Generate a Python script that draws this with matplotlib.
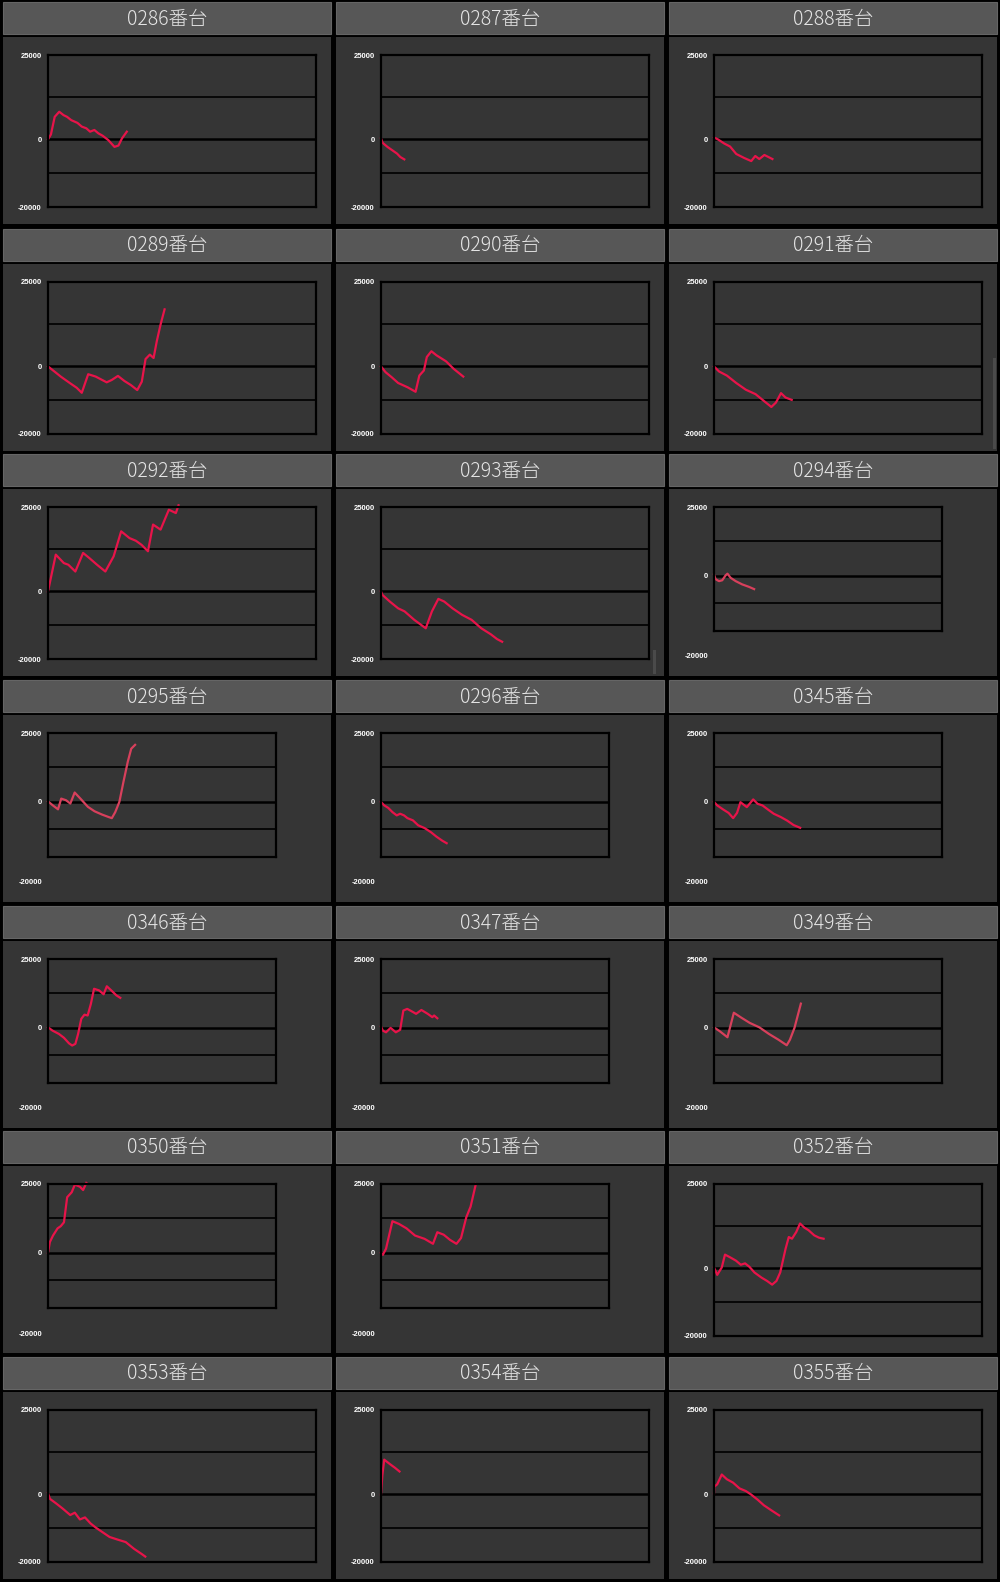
import matplotlib
matplotlib.use('Agg')
import matplotlib.pyplot as plt
from matplotlib.patches import Rectangle

plt.rcParams['font.family'] = ['Noto Sans CJK JP', 'DejaVu Sans']

W, H = 1000, 1582

# panel titles, row by row
labels = ['0286番台', '0287番台', '0288番台',
          '0289番台', '0290番台', '0291番台',
          '0292番台', '0293番台', '0294番台',
          '0295番台', '0296番台', '0345番台',
          '0346番台', '0347番台', '0349番台',
          '0350番台', '0351番台', '0352番台',
          '0353番台', '0354番台', '0355番台']

# x = % of the chart width, y = difference in yen
x_0286 = [0, 1.1, 2.5, 4.2, 5.8, 7.1, 8.7, 11, 12.6, 14.3, 15.7, 17.3, 18.8, 20.4, 22.5, 24.8, 26.3, 27.6, 29.4]
y_0286 = [0, 1500, 6700, 8200, 7200, 6700, 5700, 4900, 3800, 3300, 2300, 2800, 1800, 1100, -200, -2200, -1800, 300, 2300]
x_0287 = [0, 0.6, 2.4, 4.2, 6, 7.2, 8.7]
y_0287 = [300, -1000, -2200, -3200, -4200, -5200, -5900]
x_0288 = [0, 1.5, 3.8, 6, 8.3, 11.3, 13.9, 15.4, 16.9, 18.8, 20.3, 21.8]
y_0288 = [600, 0, -1200, -2100, -4300, -5500, -6400, -4900, -5800, -4600, -5200, -5800]
x_0289 = [0, 2.4, 4.75, 8.3, 10.7, 12.6, 15, 17.8, 20.2, 21.9, 23.8, 26.1, 28.5, 30.9, 33.3, 35, 36.4, 38, 39.4, 40.6, 42, 43.5]
y_0289 = [0, -1500, -3000, -5000, -6300, -7800, -2300, -3000, -4000, -4700, -4000, -2800, -4300, -5500, -7000, -4500, 2200, 3500, 2500, 7500, 12400, 16900]
x_0290 = [0, 1.7, 4, 6.4, 10, 12.9, 14.3, 16, 17.1, 18.8, 20.7, 24.3, 27.1, 30.7]
y_0290 = [0, -1700, -3200, -4900, -6200, -7500, -2700, -1200, 2800, 4500, 3300, 1500, -700, -3000]
x_0291 = [0, 1.9, 4.8, 8.3, 11.9, 15.5, 18.6, 21.4, 23.1, 25, 26.7, 29]
y_0291 = [0, -1500, -2700, -4900, -6900, -8200, -10200, -12000, -10700, -7900, -9200, -9900]
x_0292 = [0, 2.9, 5.9, 7.6, 10.2, 13.1, 15.4, 18.3, 21.4, 24.5, 27.3, 30.4, 32.8, 34.9, 37.3, 39.2, 42, 45.1, 47.7, 48.7]
y_0292 = [0, 10900, 8400, 7900, 5900, 11400, 9900, 7900, 5900, 10400, 17800, 15800, 15000, 13800, 11900, 19800, 18300, 24200, 23200, 25500]
x_0293 = [0, 0.5, 3.3, 6.4, 8.8, 12.4, 16.7, 19, 21.4, 23.6, 26.7, 30.2, 33.8, 37.4, 41, 43.3, 45.2]
y_0293 = [0, -1000, -3000, -5000, -5900, -8400, -10900, -5900, -2200, -3000, -5000, -6900, -8400, -10900, -12700, -14100, -14900]
x_0294 = [0, 0.7, 2.2, 3.6, 5.1, 5.9, 7.3, 9.5, 12.4, 15.4, 17.6]
y_0294 = [500, -1200, -1900, -1600, 200, 800, -700, -1900, -3100, -4000, -4800]
x_0295 = [0, 2, 4.4, 5.8, 7.9, 9.8, 11.7, 14.2, 17.5, 20.4, 23.7, 26.6, 28, 29.5, 31.3, 33.1, 35, 36.5, 38.2]
y_0295 = [200, -1200, -2700, 1200, 600, -600, 3400, 1200, -1800, -3400, -4600, -5500, -5900, -3700, 0, 7300, 14600, 19300, 20700]
x_0296 = [0, 1.3, 3.2, 5, 6.9, 8.4, 10.1, 11.6, 14, 16.3, 19.1, 21.9, 24.3, 26.9, 28.8]
y_0296 = [0, -1200, -2200, -3700, -4900, -4300, -4900, -5900, -6700, -8500, -9500, -11000, -12600, -14100, -15000]
x_0345 = [0, 1.3, 4.1, 6.4, 8.4, 10.1, 11.6, 14.4, 17.2, 19.1, 21.3, 23.7, 26.2, 29.3, 32.1, 34.9, 37.8]
y_0345 = [0, -1200, -2800, -4000, -5900, -4000, -100, -1900, 900, -700, -1300, -2800, -4300, -5500, -6800, -8400, -9400]
x_0346 = [0, 2, 4.8, 7, 9.2, 10.6, 12, 13.2, 14.6, 16, 17.4, 18.8, 20.2, 22.4, 24.4, 25.8, 28, 30, 31.7]
y_0346 = [200, -1000, -2200, -3600, -5600, -6400, -5800, -2200, 3300, 4800, 4500, 8700, 14200, 13600, 12200, 15100, 13400, 11800, 10900]
x_0347 = [0, 0.8, 2.2, 4.2, 6.5, 8.4, 9.8, 11.5, 13.5, 15.4, 17.7, 20.5, 22.5, 23.3, 24.7]
y_0347 = [500, -1000, -1600, 0, -1600, -700, 6300, 6900, 6000, 5100, 6500, 5100, 3900, 4500, 3500]
x_0349 = [0, 2.5, 5.9, 8.7, 12, 15.7, 19.9, 24.1, 28.3, 31.9, 33.3, 35.3, 38.1]
y_0349 = [200, -1200, -3400, 5500, 3700, 1800, 200, -2200, -4300, -6300, -4300, 0, 8800]
x_0350 = [0, 0.8, 2.2, 4.2, 5.6, 7, 8.4, 10.4, 11.8, 14, 15.4, 16.8]
y_0350 = [0, 3900, 6300, 8900, 9700, 11100, 20200, 22000, 24800, 24000, 22800, 25400]
x_0351 = [0, 0.8, 2.2, 5, 7.9, 11.2, 14.9, 19.1, 22.8, 24.7, 27.5, 30.3, 33.1, 35.1, 37.4, 39.3, 41.6]
y_0351 = [0, -700, 1500, 11500, 10500, 8900, 6300, 5100, 3300, 7500, 6600, 4700, 3300, 5400, 12900, 16800, 25000]
x_0352 = [0, 1.2, 2.9, 4.1, 6, 8.2, 10, 11.6, 13.2, 15.1, 17.7, 19.8, 21.7, 23.3, 24.7, 26.7, 27.9, 29.1, 30.7, 32.1, 33.7, 35.3, 37.4, 39.2, 40.9]
y_0352 = [300, -1900, 300, 4100, 3300, 2300, 1100, 1500, 500, -1200, -2700, -3700, -4800, -3700, -1200, 5800, 9300, 8800, 10800, 13300, 12100, 11300, 9800, 9100, 8800]
x_0353 = [0, 0.7, 3.1, 5.5, 8.3, 10, 11.9, 13.8, 15.9, 17.8, 20.2, 23, 26.1, 29, 32.1, 34.9, 36.3]
y_0353 = [400, -1300, -2700, -4200, -6100, -5400, -7400, -6800, -8600, -9800, -11100, -12600, -13400, -14100, -16100, -17600, -18400]
x_0354 = [0, 0.5, 1.2, 3.3, 5.2, 6.9]
y_0354 = [0, 5700, 10300, 9000, 7900, 6800]
x_0355 = [0, 0.1, 1.2, 2.9, 4.8, 7.1, 9.5, 11.9, 13.8, 16.2, 18.6, 21.4, 24.3]
y_0355 = [300, 2300, 3000, 5900, 4500, 3500, 1800, 1000, 0, -1500, -3200, -4700, -6200]

xs = [x_0286, x_0287, x_0288, x_0289, x_0290, x_0291, x_0292, x_0293, x_0294, x_0295, x_0296,
      x_0345, x_0346, x_0347, x_0349, x_0350, x_0351, x_0352, x_0353, x_0354, x_0355]
ys = [y_0286, y_0287, y_0288, y_0289, y_0290, y_0291, y_0292, y_0293, y_0294, y_0295, y_0296,
      y_0345, y_0346, y_0347, y_0349, y_0350, y_0351, y_0352, y_0353, y_0354, y_0355]

# these charts were shrunk in the original screenshot
squeezed = ['0294番台', '0295番台', '0296番台', '0345番台', '0346番台',
            '0347番台', '0349番台', '0350番台', '0351番台']
faded = ['0294番台', '0295番台', '0349番台']

col_left = [3, 336, 669]
row_top = [2, 229, 454, 680, 906, 1131, 1357]
panel_w, panel_h = 328, 222
header_h = 32
body_top = 35


def fx(px):
    return px / W


def fy(py):
    return 1 - py / H


fig = plt.figure(figsize=(10, 15.82), dpi=100, facecolor='black')

for i, lab in enumerate(labels):
    r, c = divmod(i, 3)
    x0, y0 = col_left[c], row_top[r]

    # panel body and header (behind the axes), black gap between them
    fig.add_artist(Rectangle((fx(x0), fy(y0 + panel_h)), fx(panel_w), (panel_h - body_top) / H,
                             facecolor='#353535', edgecolor='none', zorder=-5,
                             transform=fig.transFigure))
    fig.add_artist(Rectangle((fx(x0), fy(y0 + header_h)), fx(panel_w), header_h / H,
                             facecolor='#575757', edgecolor='#656565', lw=0.8, zorder=-4,
                             transform=fig.transFigure))
    fig.text(fx(x0 + panel_w / 2), fy(y0 + 17), lab, ha='center', va='center',
             fontsize=14, color='#e6e6e6', weight='light')

    if lab in squeezed:
        right, bottom = 273, 177
    else:
        right, bottom = 313, 205
    left, top = 45, 53

    ax = fig.add_axes([fx(x0 + left), fy(y0 + bottom), fx(right - left), (bottom - top) / H])
    ax.set_facecolor('#353535')
    ax.set_xlim(0, 100)
    ax.set_ylim(-20000, 25000)
    for s in ax.spines.values():
        s.set_color('black')
        s.set_linewidth(1.6)
    ax.axhline(12500, color='black', lw=1.2)
    ax.axhline(-10000, color='black', lw=1.2)
    ax.axhline(0, color='black', lw=1.8)

    ax.set_xticks([])
    if lab in squeezed:
        ax.set_yticks([0, 25000])
        ax.set_yticklabels(['0', '25000'])
        fig.text(fx(x0 + 39), fy(y0 + 203), '-20000', ha='right', va='center',
                 fontsize=5.5, color='white', family='Liberation Sans', weight='bold')
    else:
        ax.set_yticks([-20000, 0, 25000])
        ax.set_yticklabels(['-20000', '0', '25000'])
    ax.tick_params(axis='y', length=0, pad=4.5, labelsize=5.5, labelcolor='white')
    for t in ax.get_yticklabels():
        t.set_family('Liberation Sans')
        t.set_weight('bold')

    color = '#d8405c' if lab in faded else '#e8144a'
    ax.plot(xs[i], ys[i], color=color, lw=1.6, clip_on=False, solid_joinstyle='round')

# thin scroll bars that show in the screenshot
fig.add_artist(Rectangle((fx(993), fy(449)), fx(3), 91 / H, facecolor='#4a4a4a',
                         edgecolor='none', transform=fig.transFigure))
fig.add_artist(Rectangle((fx(653), fy(674)), fx(3), 24 / H, facecolor='#4a4a4a',
                         edgecolor='none', transform=fig.transFigure))

plt.savefig('out.png', dpi=100, facecolor='black')
